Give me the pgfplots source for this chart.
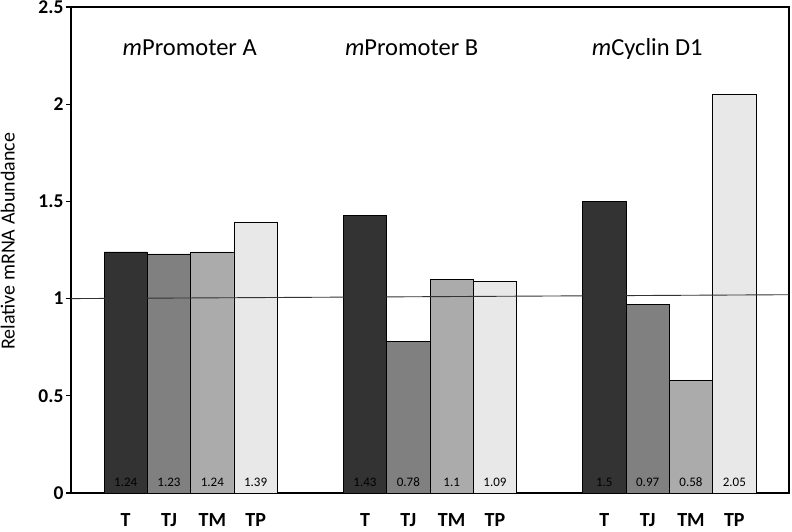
\documentclass[border=0pt]{standalone}
\usepackage{fontspec}
\setmainfont{Carlito}
\usepackage{pgfplots}
\pgfplotsset{compat=1.18}
\definecolor{cT}{HTML}{333333}
\definecolor{cTJ}{HTML}{808080}
\definecolor{cTM}{HTML}{ABABAB}
\definecolor{cTP}{HTML}{E8E8E8}
\begin{document}
\begin{tikzpicture}
\begin{axis}[name=ax, scale only axis, width=718pt, height=486pt,
  xmin=-0.5, xmax=2.5, ymin=0, ymax=2.5,
  ytick={0,0.5,1,1.5,2,2.5}, yticklabels={0,0.5,1,1.5,2,2.5},
  yticklabel style={font=\fontsize{19.5}{22}\selectfont\bfseries, xshift=1pt},
  ytick align=outside, ytick pos=left, major tick length=5pt,
  xtick={-0.2715,-0.0905,0.0905,0.2715,0.7285,0.9095,1.0905,1.2715,1.7285,1.9095,2.0905,2.2715},
  xticklabels={T,TJ,TM,TP,T,TJ,TM,TP,T,TJ,TM,TP},
  x tick style={draw=none},
  xticklabel style={font=\fontsize{20}{22}\selectfont\bfseries, yshift=-17pt},
  extra x ticks={-0.5,0.5,1.5,2.5},
  extra x tick labels={},
  extra x tick style={tick align=outside, tick pos=left, major tick length=7pt, tick style={draw=black, line width=1.2pt}},
  axis line style={line width=1.3pt},
  y tick style={line width=1.2pt, black},
  ylabel={Relative mRNA Abundance},
  ylabel style={font=\fontsize{20}{22}\selectfont, at={(axis description cs:-0.088,0.518)}, anchor=center, rotate=0},
  clip=false,
]
\addplot[ybar, bar width=0.181, bar shift=-0.2715, fill=cT, draw=black, line width=0.7pt] coordinates {(0,1.24) (1,1.43) (2,1.5)};
\addplot[ybar, bar width=0.181, bar shift=-0.0905, fill=cTJ, draw=black, line width=0.7pt] coordinates {(0,1.23) (1,0.78) (2,0.97)};
\addplot[ybar, bar width=0.181, bar shift=0.0905, fill=cTM, draw=black, line width=0.7pt] coordinates {(0,1.24) (1,1.1) (2,0.58)};
\addplot[ybar, bar width=0.181, bar shift=0.2715, fill=cTP, draw=black, line width=0.7pt] coordinates {(0,1.39) (1,1.09) (2,2.05)};
\addplot[only marks, mark=*, mark options={draw opacity=0, fill opacity=0},
  nodes near coords, point meta=explicit symbolic,
  nodes near coords style={font=\fontsize{13}{14}\selectfont, anchor=center, text=black, text opacity=1, fill opacity=1, draw opacity=1}]
  coordinates {(-0.2715,0.056)[1.24] (-0.0905,0.056)[1.23] (0.0905,0.056)[1.24] (0.2715,0.056)[1.39]
               (0.7285,0.056)[1.43] (0.9095,0.056)[0.78] (1.0905,0.056)[1.1] (1.2715,0.056)[1.09]
               (1.7285,0.056)[1.5] (1.9095,0.056)[0.97] (2.0905,0.056)[0.58] (2.2715,0.056)[2.05]};
\addplot[black!80, line width=0.9pt, sharp plot, mark=none] coordinates {(-0.5,1.0) (2.5,1.02)};
\node[anchor=base, font=\fontsize{24.5}{28}\selectfont] at (axis cs:-0.004,2.2525) {\textit{m}Promoter A};
\node[anchor=base, font=\fontsize{24.5}{28}\selectfont] at (axis cs:0.923,2.2525) {\textit{m}Promoter B};
\node[anchor=base, font=\fontsize{24.5}{28}\selectfont] at (axis cs:1.908,2.2525) {\textit{m}Cyclin D1};
\end{axis}
\pgfresetboundingbox
\path[use as bounding box] ([xshift=-71pt,yshift=-38pt]ax.south west) rectangle ([xshift=3pt,yshift=7pt]ax.north east);
\end{tikzpicture}
\end{document}
